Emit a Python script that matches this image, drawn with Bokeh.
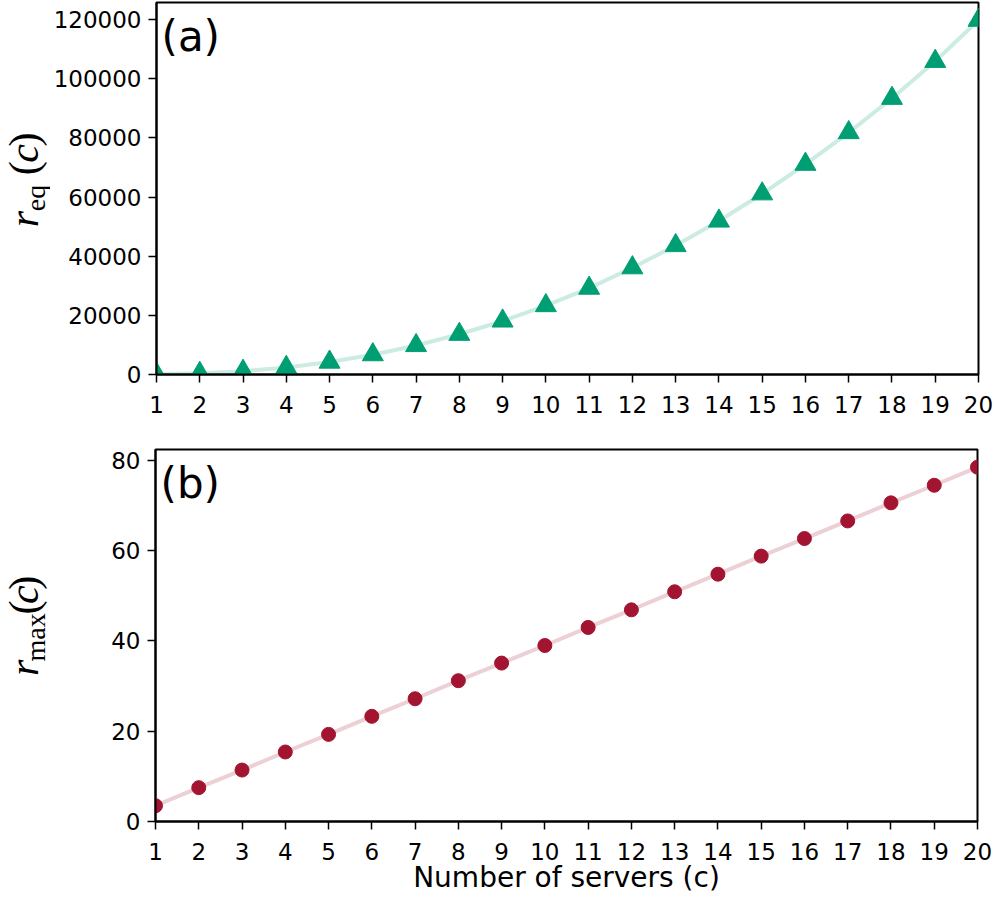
import math
from bokeh.plotting import figure
from bokeh.models import Range1d, FixedTicker, BasicTickFormatter, Label
from bokeh.layouts import column, row
from bokeh.core.properties import value
from bokeh.embed import file_html
from bokeh.resources import INLINE

# ---------------- data ----------------
servers = list(range(1, 21))
r_eq = [100, 400, 1100, 2400, 4200, 6700, 9800, 13600, 18100, 23300,
        29200, 36100, 43600, 51900, 61100, 71100, 81800, 93400, 105900, 119800]
r_max = [3.5, 7.5, 11.4, 15.4, 19.3, 23.3, 27.2, 31.2, 35.1, 39.0,
         43.0, 46.9, 50.9, 54.8, 58.8, 62.7, 66.6, 70.6, 74.5, 78.5]
x_ticks = list(range(1, 21))
y_ticks_a = [0, 20000, 40000, 60000, 80000, 100000, 120000]
y_ticks_b = [0, 20, 40, 60, 80]
x_label = "Number of servers (c)"
panel_labels = ["(a)", "(b)"]
y_subscripts = ["eq", "max"]

GREEN = "#009E73"
RED = "#A2142F"

# ---------------- layout constants (page pixels) ----------------
LAB_W = 50            # strip holding the rotated y labels
FRAME_W = 822
LEFT = 105
RIGHT = 16
TICK_FONT = "23px"
A_TOP, A_H, A_BOT = 2, 372, 48
B_TOP, B_H = 27, 372
FIG1_H = A_TOP + A_H + A_BOT


def make_fig(ymax, top, frame_h, bottom, yticks):
    p = figure(frame_width=FRAME_W, frame_height=frame_h,
               x_range=Range1d(1, 20), y_range=Range1d(0, ymax),
               output_backend="svg", toolbar_location=None,
               min_border_left=LEFT, min_border_right=RIGHT,
               min_border_top=top, min_border_bottom=bottom,
               background_fill_color="white", border_fill_color="white")
    p.xgrid.visible = False
    p.ygrid.visible = False
    p.outline_line_color = "black"
    p.outline_line_width = 2
    p.outline_line_alpha = 1.0
    p.xaxis.ticker = FixedTicker(ticks=x_ticks)
    p.yaxis.ticker = FixedTicker(ticks=yticks)
    p.yaxis.formatter = BasicTickFormatter(use_scientific=False)
    for ax in (p.xaxis[0], p.yaxis[0]):
        ax.axis_line_color = "black"
        ax.axis_line_width = 2
        ax.major_tick_line_color = "black"
        ax.major_tick_line_width = 1.5
        ax.major_tick_out = 8
        ax.major_tick_in = 0
        ax.minor_tick_out = 0
        ax.minor_tick_in = 0
        ax.major_label_text_font = "DejaVu Sans"
        ax.major_label_text_font_size = TICK_FONT
        ax.major_label_text_color = "black"
    p.xaxis.major_label_standoff = 13
    p.yaxis.major_label_standoff = 7
    return p


def blank(width, height):
    b = figure(width=width, height=height, x_range=Range1d(0, width),
               y_range=Range1d(0, height), output_backend="svg",
               toolbar_location=None, min_border=0,
               x_axis_location=None, y_axis_location=None,
               outline_line_color=None, background_fill_color="white",
               border_fill_color="white")
    b.xgrid.visible = False
    b.ygrid.visible = False
    return b


# ---------------- panel (a) ----------------
p1 = make_fig(max(r_eq) * 1.05, A_TOP, A_H, A_BOT, y_ticks_a)
p1.line(servers, r_eq, line_color=GREEN, line_alpha=0.2, line_width=4)
p1.scatter(servers, r_eq, marker="triangle", size=21, fill_color=GREEN,
           line_color=GREEN, line_width=1)

# ---------------- panel (b) ----------------
p2 = make_fig(max(r_max) * 1.05, B_TOP, B_H, 0, y_ticks_b)
p2.line(servers, r_max, line_color=RED, line_alpha=0.2, line_width=4)
p2.scatter(servers, r_max, marker="circle", size=14, fill_color=RED,
           line_color=RED, line_width=1)
p2.xaxis.axis_label = x_label
p2.xaxis.axis_label_text_font = "DejaVu Sans"
p2.xaxis.axis_label_text_font_size = "28px"
p2.xaxis.axis_label_text_font_style = "normal"
p2.xaxis.axis_label_text_color = "black"
p2.xaxis.axis_label_standoff = -2

# panel letters inside the frames
for p, h, lab in ((p1, A_H, panel_labels[0]), (p2, B_H, panel_labels[1])):
    p.add_layout(Label(x=5, y=h - 58, x_units="screen", y_units="screen",
                       text=lab, text_font="DejaVu Sans",
                       text_font_size="42px", text_color="black",
                       text_baseline="bottom", text_align="left"))

# ---------------- rotated y labels (mathtext-like pieces) ----------------
MAIN, SUB = 42, 28
XB = 37 + 0.216 * MAIN     # bottom of text box: baseline + descent
XS = 44 + 0.216 * SUB
W_PAREN, W_C = 0.333 * MAIN, 0.444 * MAIN
STRIP_H = 420


def ylabel(strip, top, sub, starts):
    y = starts[2]
    items = [("r", XB, starts[0], MAIN, "italic"),
             (sub, XS, starts[1], SUB, "normal"),
             ("(", XB, y, MAIN, "normal"),
             ("c", XB, y - W_PAREN, MAIN, "italic"),
             (")", XB, y - W_PAREN - W_C, MAIN, "normal")]
    for txt, sx, sy, size, style in items:
        strip.text(x=[sx], y=[STRIP_H - (sy - top)], text=[txt],
                   angle=math.pi / 2,
                   text_font=value("Liberation Serif"), text_font_style=style,
                   text_font_size=value(f"{size}px"), text_color="black",
                   text_align="left", text_baseline="bottom")


la = blank(LAB_W, STRIP_H)
ylabel(la, 0, y_subscripts[0], (255, 237, 196))
lb = blank(LAB_W, STRIP_H)
ylabel(lb, FIG1_H, y_subscripts[1], (721, 702, 640))

layout = column(row(la, p1), row(lb, p2))
open("out.html", "w").write(file_html(layout, INLINE))
